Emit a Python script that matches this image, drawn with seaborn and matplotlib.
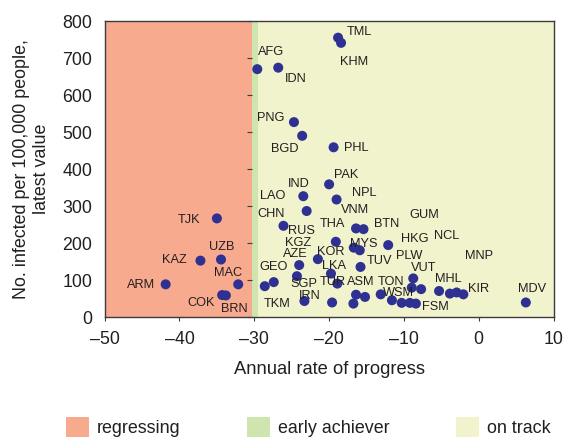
import matplotlib
matplotlib.use("Agg")
import matplotlib.pyplot as plt
import seaborn as sns
import pandas as pd
from matplotlib.patches import Patch

# ---------------- data ----------------
codes = ["TML", "KHM", "AFG", "IDN", "PNG", "BGD", "PHL", "TJK", "KAZ", "UZB",
         "ARM", "MAC", "COK", "BRN", "PAK", "IND", "LAO", "NPL", "CHN", "VNM",
         "BTN", "THA", "MYS", "RUS", "HKG", "KOR", "AZE", "SGP", "LKA", "TUR",
         "TUV", "TKM", "GEO", "IRN", "KGZ", "ASM", "", "", "TON", "WSM",
         "", "", "FSM", "VUT", "PLW", "GUM", "MHL", "NCL", "MNP", "KIR", "MDV"]
rate = [-18.8, -18.4, -29.6, -26.8, -24.7, -23.6, -19.4, -35.0, -37.2, -34.45,
        -41.85, -32.15, -34.3, -33.8, -20.0, -23.45, -23.0, -19.0, -26.1, -16.4,
        -15.4, -19.1, -16.7, -15.9, -12.1, -21.5, -24.0, -24.3, -19.75, -18.9,
        -15.8, -28.6, -27.4, -23.3, -19.6, -16.4, -15.2, -16.75, -13.1, -11.6,
        -10.3, -9.2, -8.4, -8.75, -8.95, -7.7, -5.3, -3.85, -2.95, -2.05, 6.3]
infected = [755, 741, 670, 674, 527, 490, 459, 267, 153, 156,
            89, 89, 60, 59, 359, 327, 287, 318, 247, 240,
            238, 204, 188, 181, 195, 157, 141, 111, 118, 91,
            136, 84, 95, 44, 40, 61, 55, 37, 62, 46,
            39, 39, 37, 105, 80, 76, 71, 64, 67, 62, 40]

region_names = ["regressing", "early achiever", "on track"]
region_start = [-50, -30.3, -29.5]
region_end = [-30.3, -29.5, 10]
region_colors = ["#F8AA8F", "#CFE5B0", "#F1F3CD"]

x_ticks = [-50, -40, -30, -20, -10, 0, 10]
x_ticklabels = ["\u201350", "\u201340", "\u201330", "\u201320", "\u201310", "0", "10"]
y_ticks = [0, 100, 200, 300, 400, 500, 600, 700, 800]

# label offsets (pixels, x right / y down) relative to each point
label_offsets = {
    "TML": (21, -6), "KHM": (13, 19), "AFG": (14, -17), "IDN": (18, 11),
    "PNG": (-23, -4), "BGD": (-17, 13), "PHL": (23, 1), "TJK": (-28, 2),
    "KAZ": (-26, -1), "UZB": (1, -13), "MAC": (-10, -11), "ARM": (-25, 1),
    "COK": (-21, 8), "BRN": (8, 14), "PAK": (17, -9), "IND": (-5, -12),
    "LAO": (-34, -15), "NPL": (28, -7), "CHN": (-12, -12), "VNM": (-1, -18),
    "BTN": (23, -5), "THA": (-3, -18), "MYS": (10, -4), "RUS": (-58, -19),
    "HKG": (27, -6), "KOR": (13, -7), "AZE": (-4, -11), "SGP": (7, 8),
    "KGZ": (-34, -59), "LKA": (3, -8), "TUR": (-4, -2), "TUV": (19, -6),
    "TKM": (12, 18), "GEO": (0, -15), "IRN": (5, -5), "ASM": (5, -13),
    "TON": (10, -12), "WSM": (7, -7), "FSM": (20, 3), "VUT": (10, -10),
    "PLW": (-3, -32), "GUM": (3, -74), "MHL": (9, -12), "NCL": (-3, -58),
    "MNP": (22, -36), "KIR": (15, -5), "MDV": (6, -13),
}

df = pd.DataFrame({"code": codes, "rate": rate, "infected": infected})

# ---------------- style ----------------
sns.set_style("ticks")
plt.rcParams["font.family"] = ["Liberation Sans", "DejaVu Sans"]
text_color = "#231F20"
frame_color = "#3C3C3C"

W, H = 566, 437
fig = plt.figure(figsize=(W / 100, H / 100), dpi=100)
left, right, top, bottom = 104.7, 553.5, 21.0, 317.3
ax = fig.add_axes([left / W, 1 - bottom / H, (right - left) / W, (bottom - top) / H])

for name, x0, x1, c in zip(region_names, region_start, region_end, region_colors):
    ax.axvspan(x0, x1, color=c, lw=0, zorder=0)

sns.scatterplot(data=df, x="rate", y="infected", ax=ax, s=52, color="#2E3192",
                edgecolor="none", linewidth=0, zorder=3, legend=False)

for c, xv, yv in zip(codes, rate, infected):
    if c in label_offsets:
        dx, dy = label_offsets[c]
        ax.annotate(c, (xv, yv), xytext=(dx, -dy), textcoords="offset pixels",
                    ha="center", va="center", fontsize=9.2, color=text_color, zorder=4)

ax.set_xlim(-50, 10)
ax.set_ylim(0, 800)
ax.set_xticks(x_ticks)
ax.set_xticklabels(x_ticklabels)
ax.set_yticks(y_ticks)

for s in ax.spines.values():
    s.set_color(frame_color)
    s.set_linewidth(1.0)

ax.tick_params(axis="x", direction="out", length=3, width=0.8, color=frame_color,
               labelsize=12.8, labelcolor=text_color, pad=7)
ax.tick_params(axis="y", length=0, labelsize=12.8, labelcolor=text_color, pad=9)

# y ticks drawn on the boundary between regressing and early achiever
loc = (region_end[0] - region_start[0]) / (region_end[-1] - region_start[0])
sec = ax.secondary_yaxis(loc, functions=(lambda v: v, lambda v: v))
sec.set_yticks(y_ticks)
sec.tick_params(axis="y", direction="out", length=3.5, width=0.8, color=frame_color,
                labelleft=False)
sec.spines["left"].set_visible(False)

ax.set_xlabel("Annual rate of progress", fontsize=13.2, color=text_color, labelpad=9)
ax.set_ylabel("No. infected per 100,000 people,\nlatest value", fontsize=12.9,
              color=text_color, labelpad=9, linespacing=1.25)

handles = [Patch(facecolor=c, edgecolor="none", label=n)
           for n, c in zip(region_names, region_colors)]
fig.legend(handles=handles, loc="upper left", bbox_to_anchor=(66 / W, 1 - 417 / H),
           ncol=3, frameon=False, fontsize=12.9, handlelength=1.28, handleheight=1.4,
           handletextpad=0.45, columnspacing=3.7, borderpad=0, borderaxespad=0,
           labelcolor=text_color)

fig.savefig("out.png", dpi=100)
